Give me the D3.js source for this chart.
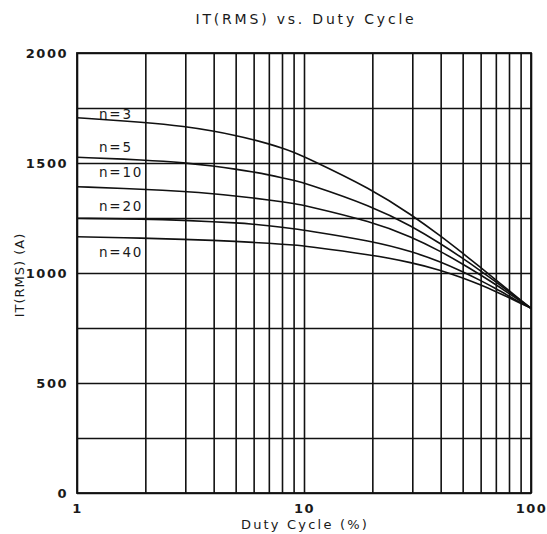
<!DOCTYPE html>
<html>
<head>
<meta charset="utf-8">
<title>IT(RMS) vs. Duty Cycle</title>
<script src="https://cdn.jsdelivr.net/npm/d3@7/dist/d3.min.js"></script>
<style>
    body { margin: 0; background: #fff; }
    text { font-family: "DejaVu Sans", sans-serif; fill: #1a1a1a; }
</style>
</head>
<body>
<div id="chart"></div>
<script>
    // duty cycle (%) sample points
    var dutyCycle = [1, 2, 3, 4, 5, 6, 7, 8, 9, 10, 20, 30, 40, 50, 60, 70, 80, 90, 100];

    // IT(RMS) (A)
    var seriesNames = ["n=3", "n=5", "n=10", "n=20", "n=40"];
    var n3  = [1706, 1685, 1666, 1645, 1625, 1606, 1587, 1568, 1549, 1530, 1380, 1262, 1168, 1090, 1025, 969, 920, 877, 840];
    var n5  = [1526, 1514, 1501, 1486, 1472, 1459, 1446, 1433, 1421, 1410, 1303, 1211, 1133, 1067, 1010, 960, 915, 875, 840];
    var n10 = [1392, 1381, 1370, 1360, 1350, 1341, 1332, 1324, 1316, 1308, 1233, 1163, 1098, 1041, 991, 947, 907, 871, 840];
    var n20 = [1249, 1245, 1239, 1233, 1228, 1222, 1215, 1208, 1201, 1195, 1145, 1097, 1051, 1006, 966, 929, 895, 865, 840];
    var n40 = [1165, 1158, 1153, 1148, 1144, 1139, 1135, 1131, 1127, 1123, 1082, 1047, 1013, 978, 946, 916, 888, 862, 840];

    var xGridValues = [1, 2, 3, 4, 5, 6, 7, 8, 9, 10, 20, 30, 40, 50, 60, 70, 80, 90, 100];
    var xLabelValues = [1, 10, 100];
    var yGridValues = [0, 250, 500, 750, 1000, 1250, 1500, 1750, 2000];
    var yLabelValues = [0, 500, 1000, 1500, 2000];

    var series = [n3, n5, n10, n20, n40];

    (function() {
        var W = 547, H = 534;
        var pLeft = 77, pRight = 531, pTop = 53, pBottom = 493;

        var svg = d3.select("#chart").append("svg")
            .attr("width", W)
            .attr("height", H);

        var x = d3.scaleLog().domain([1, 100]).range([pLeft, pRight]);
        var y = d3.scaleLinear().domain([0, 2000]).range([pBottom, pTop]);

        // grid via axes
        var xAxis = d3.axisBottom(x)
            .tickValues(xGridValues)
            .tickSize(-(pBottom - pTop))
            .tickPadding(11)
            .tickFormat(function(d) { return xLabelValues.indexOf(d) >= 0 ? d : ""; });

        var gx = svg.append("g")
            .attr("transform", "translate(0," + pBottom + ")")
            .call(xAxis);
        gx.select(".domain").remove();
        gx.selectAll("line").attr("stroke", "#111").attr("stroke-width", 1.6);
        gx.selectAll("text")
            .attr("font-size", "13px")
            .attr("letter-spacing", "1.5px")
            .attr("font-weight", "bold")
            .attr("fill", "#222");

        var yAxis = d3.axisLeft(y)
            .tickValues(yGridValues)
            .tickSize(-(pRight - pLeft))
            .tickPadding(9)
            .tickFormat(function(d) { return yLabelValues.indexOf(d) >= 0 ? d : ""; });

        var gy = svg.append("g")
            .attr("transform", "translate(" + pLeft + ",0)")
            .call(yAxis);
        gy.select(".domain").remove();
        gy.selectAll("line").attr("stroke", "#111").attr("stroke-width", 1.6);
        gy.selectAll("text")
            .attr("font-size", "13px")
            .attr("letter-spacing", "1.5px")
            .attr("font-weight", "bold")
            .attr("fill", "#222");

        svg.append("rect")
            .attr("x", pLeft).attr("y", pTop)
            .attr("width", pRight - pLeft).attr("height", pBottom - pTop)
            .attr("fill", "none")
            .attr("stroke", "#111")
            .attr("stroke-width", 1.8);

        // curves
        var line = d3.line()
            .x(function(d, i) { return x(dutyCycle[i]); })
            .y(function(d) { return y(d); })
            .curve(d3.curveBasis);

        svg.selectAll(".curve")
            .data(series)
            .enter().append("path")
            .attr("class", "curve")
            .attr("d", line)
            .attr("fill", "none")
            .attr("stroke", "#111")
            .attr("stroke-width", 1.6);

        // curve labels, placed relative to the start of each curve
        var labelDy = [1, -5, -10, -7, 20];
        svg.selectAll(".lbl")
            .data(series)
            .enter().append("text")
            .attr("class", "lbl")
            .attr("x", x(1) + 22)
            .attr("y", function(d, i) { return y(d[0]) + labelDy[i]; })
            .attr("font-size", "13.5px")
            .attr("letter-spacing", "1.8px")
            .text(function(d, i) { return seriesNames[i]; });

        // titles
        svg.append("text")
            .attr("x", 306)
            .attr("y", 24)
            .attr("text-anchor", "middle")
            .attr("font-size", "14px")
            .attr("letter-spacing", "2.8px")
            .text("IT(RMS)  vs.  Duty Cycle");

        svg.append("text")
            .attr("x", 305)
            .attr("y", 529)
            .attr("text-anchor", "middle")
            .attr("font-size", "13px")
            .attr("letter-spacing", "2.2px")
            .text("Duty Cycle (%)");

        svg.append("text")
            .attr("transform", "translate(24,275) rotate(-90)")
            .attr("text-anchor", "middle")
            .attr("font-size", "13px")
            .attr("letter-spacing", "1px")
            .text("IT(RMS) (A)");
    })();
</script>
</body>
</html>
